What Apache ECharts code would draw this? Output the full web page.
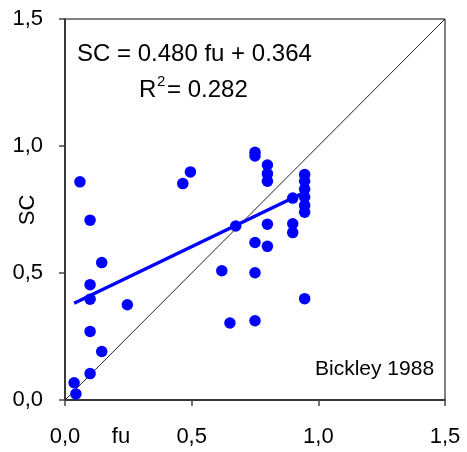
<!DOCTYPE html>
<html>
<head>
<meta charset="utf-8">
<script src="https://cdn.jsdelivr.net/npm/echarts@6/dist/echarts.min.js"></script>
<style>
html,body{margin:0;padding:0;background:#fff;}
#c{width:467px;height:452px;}
</style>
</head>
<body>
<div id="c"></div>
<script>
// Data
var fuValues = [0.036, 0.043, 0.099, 0.145, 0.099, 0.246, 0.099, 0.099, 0.145, 0.099, 0.059,
  0.465, 0.495, 0.619, 0.651, 0.674, 0.750, 0.750, 0.750, 0.750, 0.750,
  0.799, 0.799, 0.799, 0.799, 0.799, 0.899, 0.899, 0.899, 0.946,
  0.946, 0.946, 0.946, 0.946, 0.946, 0.946];
var scValues = [0.068, 0.024, 0.104, 0.191, 0.270, 0.375, 0.397, 0.454, 0.541, 0.708, 0.859,
  0.852, 0.898, 0.509, 0.303, 0.685, 0.975, 0.961, 0.620, 0.501, 0.312,
  0.925, 0.891, 0.861, 0.692, 0.605, 0.795, 0.694, 0.659, 0.399,
  0.888, 0.861, 0.830, 0.798, 0.766, 0.739];
var fitX = [0.036, 0.946];
var fitY = [0.381, 0.818];
var diagX = [0, 1.5];
var diagY = [0, 1.5];
var xTicks = ['0,0', '0,5', '1,0', '1,5'];
var yTicks = ['0,0', '0,5', '1,0', '1,5'];
var equationText = 'SC = 0.480 fu + 0.364';
var r2Value = '0.282';
var sourceText = 'Bickley 1988';
var xName = 'fu';
var yName = 'SC';

var points = fuValues.map(function (v, i) { return [v, scValues[i]]; });
var fitLine = fitX.map(function (v, i) { return [v, fitY[i]]; });
var diagLine = diagX.map(function (v, i) { return [v, diagY[i]]; });

var FONT = '"Liberation Sans", Arial, sans-serif';
var chart = echarts.init(document.getElementById('c'), null, {renderer: 'canvas'});
chart.setOption({
  animation: false,
  backgroundColor: '#fff',
  grid: {left: 65, right: 22, top: 19, bottom: 52, show: true, borderColor: '#000', borderWidth: 1, backgroundColor: 'transparent'},
  xAxis: {
    type: 'value', min: 0, max: 1.5, interval: 0.5,
    axisLine: {show: true, onZero: false, lineStyle: {color: '#222', width: 1.5}},
    axisTick: {show: true, length: 6, lineStyle: {color: '#444', width: 1.5}},
    splitLine: {show: false},
    axisLabel: {margin: 26, fontFamily: FONT, fontSize: 22, color: '#000',
      formatter: function (v) { return xTicks[Math.round(v / 0.5)]; }}
  },
  yAxis: {
    type: 'value', min: 0, max: 1.5, interval: 0.5,
    axisLine: {show: true, onZero: false, lineStyle: {color: '#222', width: 1.5}},
    axisTick: {show: true, length: 6, lineStyle: {color: '#444', width: 1.5}},
    splitLine: {show: false},
    axisLabel: {margin: 22, fontFamily: FONT, fontSize: 22, color: '#000',
      formatter: function (v) { return yTicks[Math.round(v / 0.5)]; }}
  },
  series: [
    {type: 'line', data: diagLine, symbol: 'none', silent: true,
      lineStyle: {color: '#222', width: 1}, z: 1},
    {type: 'scatter', data: points, symbol: 'circle', symbolSize: 11.5,
      itemStyle: {color: '#0000ff', opacity: 1}, z: 3},
    {type: 'line', data: fitLine, symbol: 'none',
      lineStyle: {color: '#0000ff', width: 3.5}, z: 2}
  ],
  graphic: [
    {type: 'text', left: 77, top: 42, style: {text: equationText, fontFamily: FONT, fontSize: 24, fill: '#000'}},
    {type: 'text', left: 139, top: 78, style: {text: 'R', fontFamily: FONT, fontSize: 24, fill: '#000'}},
    {type: 'text', left: 157, top: 74, style: {text: '2', fontFamily: FONT, fontSize: 15, fill: '#000'}},
    {type: 'text', left: 167, top: 78, style: {text: '= ' + r2Value, fontFamily: FONT, fontSize: 24, fill: '#000'}},
    {type: 'text', left: 315, top: 359, style: {text: sourceText, fontFamily: FONT, fontSize: 21, fill: '#000'}},
    {type: 'text', x: 121, y: 437, style: {text: xName, fontFamily: FONT, fontSize: 22, fill: '#000', align: 'center', verticalAlign: 'middle'}},
    {type: 'text', x: 28, y: 210, rotation: Math.PI / 2, style: {text: yName, fontFamily: FONT, fontSize: 22, fill: '#000', align: 'center', verticalAlign: 'middle'}}
  ]
});
</script>
</body>
</html>
